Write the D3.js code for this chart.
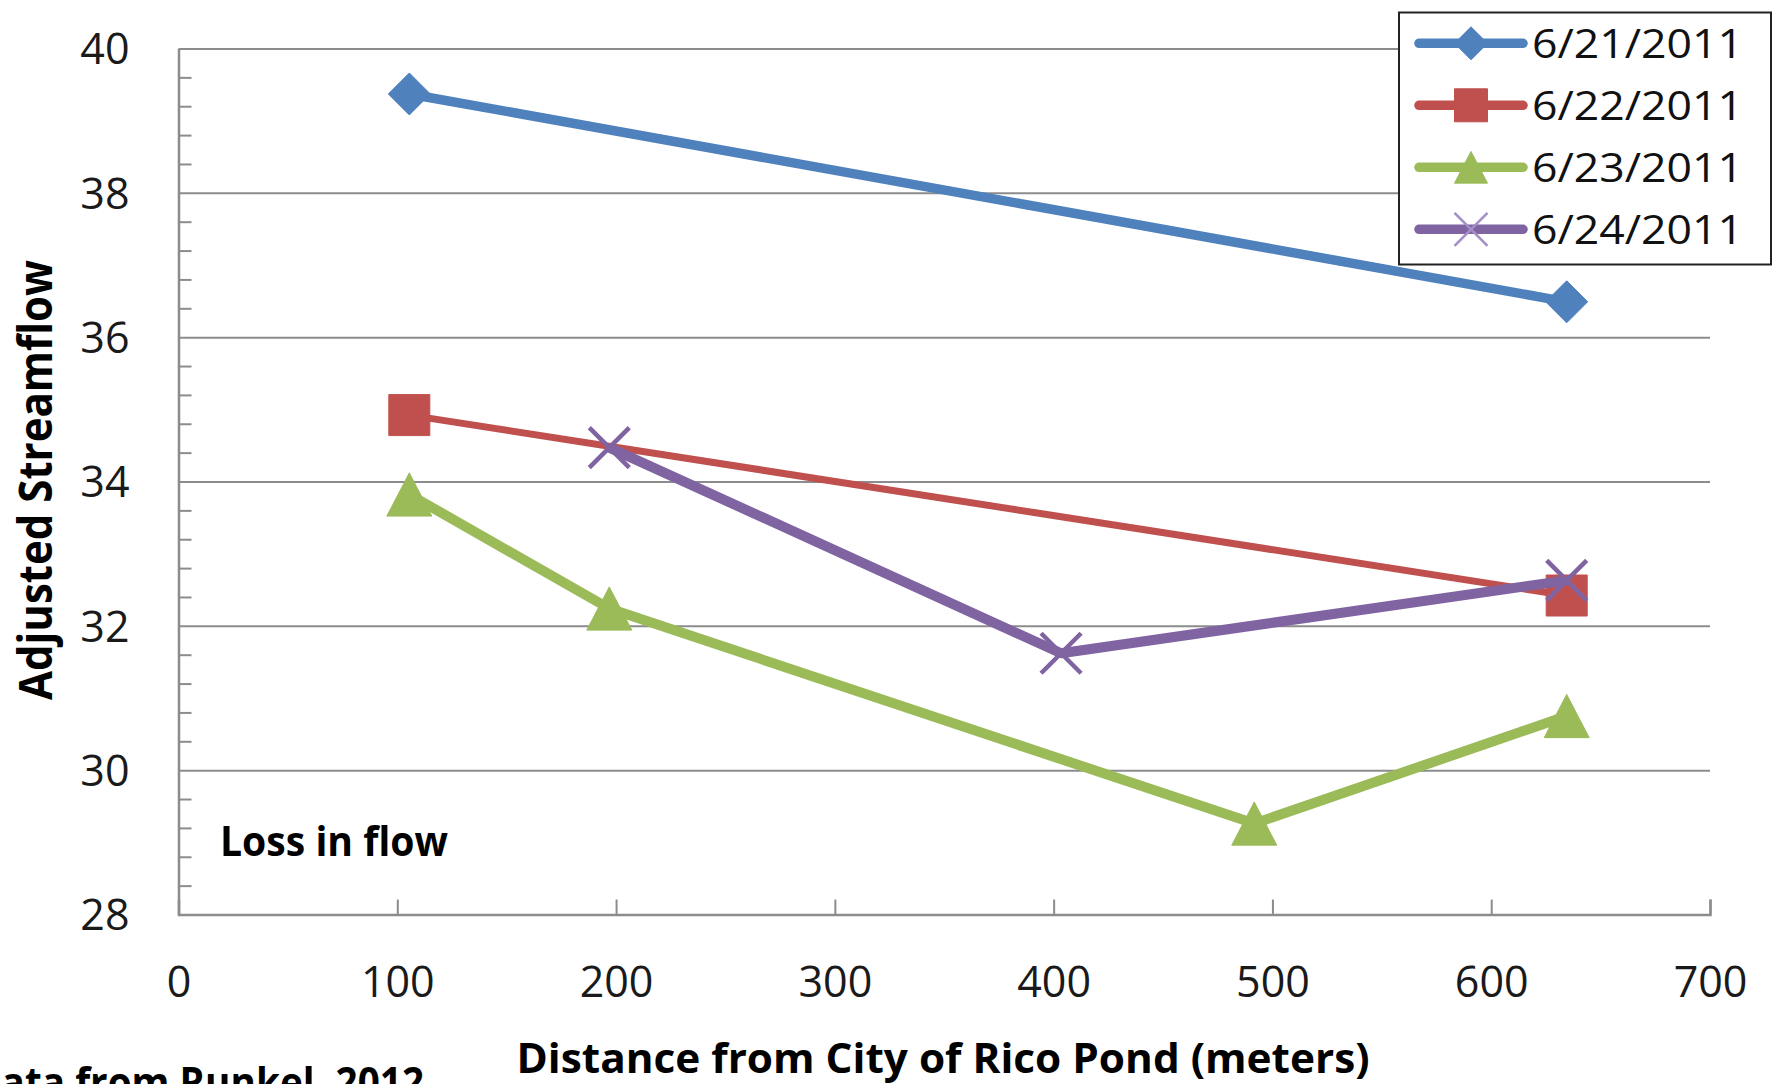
<!DOCTYPE html>
<html>
<head>
<meta charset="utf-8">
<script src="https://cdn.jsdelivr.net/npm/d3@7"></script>
<style>
  html, body { margin: 0; padding: 0; background: #fff; overflow: hidden; }
  svg { display: block; font-family: "Open Sans", sans-serif; }
</style>
</head>
<body>
<svg id="chart"></svg>
<script>
// Values
const xTicks = [0, 100, 200, 300, 400, 500, 600, 700];
const yTicks = [28, 30, 32, 34, 36, 38, 40];

const seriesNames = ["6/21/2011", "6/22/2011", "6/23/2011", "6/24/2011"];
// [distance (m), adjusted streamflow]
const jun21 = [[105.5, 39.37], [634.5, 36.49]];
const jun22 = [[105.5, 34.92], [634.5, 32.42]];
const jun23 = [[105.5, 33.82], [196.9, 32.24], [491.7, 29.26], [634.5, 30.75]];
const jun24 = [[196.9, 34.47], [403.4, 31.62], [634.5, 32.63]];

const xTitle = "Distance from City of Rico Pond (meters)";
const yTitle = "Adjusted Streamflow";
const noteText = "Loss in flow";
const sourceText = "Data from Runkel, 2012";

// Marker shapes for d3.symbol (size = width squared)
const diamond = { draw(ctx, size) { const r = Math.sqrt(size) / 2;
  ctx.moveTo(0, -r); ctx.lineTo(r, 0); ctx.lineTo(0, r); ctx.lineTo(-r, 0); ctx.closePath(); } };
const square = { draw(ctx, size) { const r = Math.sqrt(size) / 2; ctx.rect(-r, -r, 2 * r, 2 * r); } };
const triangle = { draw(ctx, size) { const w = Math.sqrt(size), h = w * 0.96;
  ctx.moveTo(0, -h / 2); ctx.lineTo(w / 2, h / 2); ctx.lineTo(-w / 2, h / 2); ctx.closePath(); } };
const cross = { draw(ctx, size) { const r = Math.sqrt(size) / 2;
  ctx.moveTo(-r, -r); ctx.lineTo(r, r); ctx.moveTo(r, -r); ctx.lineTo(-r, r); } };

const series = [
  { name: seriesNames[0], data: jun21, color: "#4F81BD", width: 9.5, shape: diamond, size: 42, filled: true },
  { name: seriesNames[1], data: jun22, color: "#C0504D", width: 7, shape: square, size: 41, filled: true },
  { name: seriesNames[2], data: jun23, color: "#9BBB59", width: 10, shape: triangle, size: 45, filled: true },
  { name: seriesNames[3], data: jun24, color: "#8064A2", width: 10, shape: cross, size: 40, filled: false }
];

const W = 1773, H = 1084;
const plot = { left: 178.5, right: 1710, top: 48.5, bottom: 914.5 };
const gridColor = "#8c8c8c";

const svg = d3.select("#chart").attr("width", W).attr("height", H);

const x = d3.scaleLinear().domain([0, 700]).range([plot.left, plot.right]);
const y = d3.scaleLinear().domain([28, 40]).range([plot.bottom, plot.top]);

// Horizontal gridlines
svg.append("g")
  .attr("transform", `translate(${plot.left},0)`)
  .call(d3.axisLeft(y).tickValues(yTicks.filter(v => v > 28)).tickSize(-(plot.right - plot.left)).tickFormat(""))
  .call(g => g.select(".domain").remove())
  .call(g => g.selectAll("line").attr("stroke", gridColor).attr("stroke-width", 2));

// Minor ticks on the y axis, pointing inward
const minorTicks = d3.range(28, 40.001, 0.4).filter(v => Math.abs(v / 2 - Math.round(v / 2)) > 0.01);
svg.append("g")
  .attr("transform", `translate(${plot.left},0)`)
  .call(d3.axisRight(y).tickValues(minorTicks).tickSize(13).tickFormat(""))
  .call(g => g.select(".domain").remove())
  .call(g => g.selectAll("line").attr("stroke", gridColor).attr("stroke-width", 2));

// Y axis
svg.append("g")
  .attr("transform", `translate(${plot.left},0)`)
  .call(d3.axisLeft(y).tickValues(yTicks).tickSize(0).tickPadding(49).tickFormat(d3.format("d")))
  .call(g => g.select(".domain").attr("stroke", gridColor).attr("stroke-width", 2.5))
  .call(g => g.selectAll("text").attr("font-family", "Open Sans").attr("font-size", 43)
    .attr("fill", "#1a1a1a").attr("dy", "0.36em"));

// X axis
svg.append("g")
  .attr("transform", `translate(0,${plot.bottom})`)
  .call(d3.axisBottom(x).tickValues(xTicks).tickSize(-15).tickPadding(52).tickFormat(d3.format("d")))
  .call(g => g.select(".domain").attr("stroke", gridColor).attr("stroke-width", 2.5))
  .call(g => g.selectAll("line").attr("stroke", gridColor).attr("stroke-width", 2))
  .call(g => g.selectAll("text").attr("font-family", "Open Sans").attr("font-size", 43).attr("fill", "#1a1a1a"));

// Series: line then markers, in order
const line = d3.line().x(d => x(d[0])).y(d => y(d[1]));
series.forEach(s => {
  svg.append("path")
    .datum(s.data)
    .attr("d", line)
    .attr("fill", "none")
    .attr("stroke", s.color)
    .attr("stroke-width", s.width)
    .attr("stroke-linejoin", "round");

  svg.selectAll(null)
    .data(s.data)
    .join("path")
    .attr("transform", d => `translate(${x(d[0])},${y(d[1])})`)
    .attr("d", d3.symbol().type(s.shape).size(s.size * s.size))
    .attr("fill", s.filled ? s.color : "none")
    .attr("stroke", s.color)
    .attr("stroke-width", s.filled ? 1 : 4.5)
    .attr("stroke-linejoin", "round");
});

// Note inside the plot
svg.append("text")
  .attr("x", 220).attr("y", 856)
  .attr("font-size", 41).attr("font-weight", 700)
  .attr("textLength", 228).attr("lengthAdjust", "spacingAndGlyphs")
  .text(noteText);

// Axis titles
svg.append("text")
  .attr("x", 943).attr("y", 1073)
  .attr("text-anchor", "middle")
  .attr("font-size", 42).attr("font-weight", 700)
  .attr("textLength", 853).attr("lengthAdjust", "spacingAndGlyphs")
  .text(xTitle);

svg.append("text")
  .attr("transform", "translate(52,480) rotate(-90)")
  .attr("text-anchor", "middle")
  .attr("font-size", 46).attr("font-weight", 700)
  .attr("textLength", 440).attr("lengthAdjust", "spacingAndGlyphs")
  .text(yTitle);

// Source line, clipped at the bottom-left corner
svg.append("text")
  .attr("x", 424).attr("y", 1097)
  .attr("text-anchor", "end")
  .attr("font-size", 42).attr("font-weight", 700)
  .attr("textLength", 451).attr("lengthAdjust", "spacingAndGlyphs")
  .text(sourceText);

// Legend
const legend = svg.append("g");
legend.append("rect")
  .attr("x", 1399).attr("y", 12.5).attr("width", 372).attr("height", 252)
  .attr("fill", "#fff").attr("stroke", "#222").attr("stroke-width", 2);

const rows = legend.selectAll("g.item")
  .data(series)
  .join("g")
  .attr("class", "item")
  .attr("transform", (d, i) => `translate(0,${43.3 + i * 62})`);

rows.append("line")
  .attr("x1", 1419).attr("x2", 1523)
  .attr("stroke", d => d.color).attr("stroke-width", 9.5).attr("stroke-linecap", "round");

rows.append("path")
  .attr("transform", "translate(1471,0)")
  .attr("d", d => d3.symbol().type(d.shape).size(33 * 33)())
  .attr("fill", d => d.filled ? d.color : "none")
  .attr("stroke", d => d.filled ? d.color : "#a38fc6")
  .attr("stroke-width", d => d.filled ? 1 : 2.5);

rows.append("text")
  .attr("x", 1532).attr("y", 14.3)
  .attr("font-size", 40)
  .attr("fill", "#111")
  .attr("textLength", 211).attr("lengthAdjust", "spacingAndGlyphs")
  .text(d => d.name);
</script>
</body>
</html>
